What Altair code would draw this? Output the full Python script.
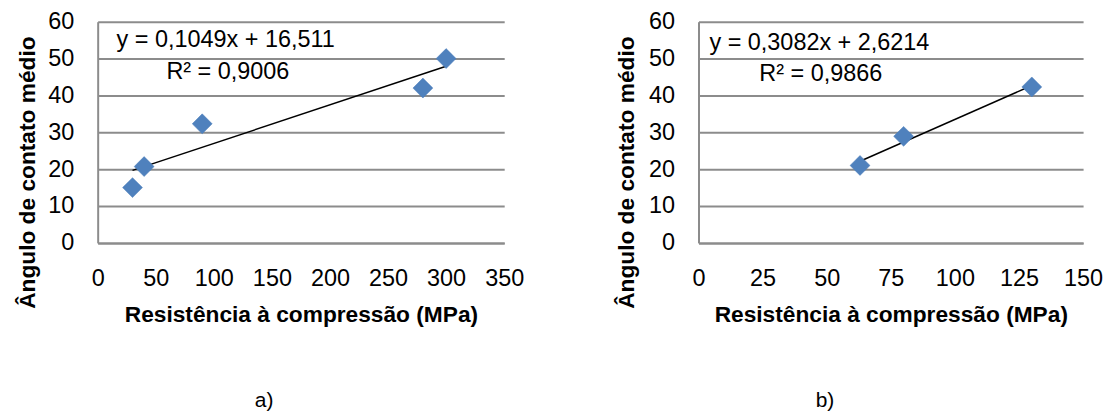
import altair as alt
import pandas as pd

# ---- data ----
a_x = [30, 40, 90, 280, 300]
a_y = [15, 20.7, 32.3, 42, 50]
b_x = [63, 80, 130]
b_y = [21, 28.9, 42.3]

a_eq = "y = 0,1049x + 16,511"
a_r2 = "R² = 0,9006"
b_eq = "y = 0,3082x + 2,6214"
b_r2 = "R² = 0,9866"

a_xticks = [0, 50, 100, 150, 200, 250, 300, 350]
b_xticks = [0, 25, 50, 75, 100, 125, 150]
y_ticks = [0, 10, 20, 30, 40, 50, 60]

x_title = "Resistência à compressão (MPa)"
y_title = "Ângulo de contato médio"

FONT = "Liberation Sans"
GRID = "#8c8c8c"
BLUE = "#4F81BD"


def panel(xs, ys, xticks, eq, r2, w, eq_pos, r2_pos, label, title_x, label_dx):
    df = pd.DataFrame({"x": xs, "y": ys})
    xenc = alt.X(
        "x:Q",
        scale=alt.Scale(domain=[xticks[0], xticks[-1]], nice=False, zero=False),
        axis=alt.Axis(
            values=xticks, title=x_title, grid=False, ticks=False,
            domain=True, domainColor=GRID, domainWidth=2,
            labelFont=FONT, labelFontSize=23.5, labelPadding=24, labelColor="black",
            labelFlush=False, labelOverlap=False,
            titleFont=FONT, titleFontSize=22.8, titleFontWeight="bold",
            titleColor="black", titlePadding=13,
        ),
    )
    yenc = alt.Y(
        "y:Q",
        scale=alt.Scale(domain=[0, 60], nice=False),
        axis=alt.Axis(
            values=y_ticks, title=y_title, grid=True, gridColor=GRID, gridWidth=2,
            ticks=False, domain=True, domainColor=GRID, domainWidth=2,
            labelFont=FONT, labelFontSize=23.5, labelPadding=24, labelColor="black",
            labelFlush=False, labelOverlap=False,
            titleFont=FONT, titleFontSize=22.8, titleFontWeight="bold",
            titleColor="black", titleX=title_x, titleY=151, titleBaseline="middle",
        ),
    )
    base = alt.Chart(df)
    pts = base.mark_point(
        shape="diamond", filled=True, size=400, color=BLUE, opacity=1,
        stroke="#4A7EBB", strokeWidth=0.5,
    ).encode(x=xenc, y=yenc)
    trend = base.transform_regression("x", "y").mark_line(
        color="black", strokeWidth=1.5
    ).encode(x=xenc, y=yenc)
    t1 = alt.Chart(pd.DataFrame({"t": [eq]})).mark_text(
        align="left", baseline="middle", font=FONT, fontSize=23.5, color="black"
    ).encode(x=alt.value(eq_pos[0]), y=alt.value(eq_pos[1]), text="t:N")
    t2 = alt.Chart(pd.DataFrame({"t": [r2]})).mark_text(
        align="left", baseline="middle", font=FONT, fontSize=23.5, color="black"
    ).encode(x=alt.value(r2_pos[0]), y=alt.value(r2_pos[1]), text="t:N")
    return alt.layer(trend, pts, t1, t2).properties(
        width=w, height=222,
        title=alt.TitleParams(
            label, orient="bottom", font=FONT, fontSize=21, fontWeight="normal",
            color="black", offset=64, dx=label_dx,
        ),
    )


left = panel(a_x, a_y, a_xticks, a_eq, a_r2, 408, (19, 18), (69, 51), "a)", -70, -37)
right = panel(b_x, b_y, b_xticks, b_eq, b_r2, 386, (11, 21), (61, 53), "b)", -72, -66)

chart = alt.hconcat(left, right, spacing=92).configure(
    padding={"left": 9, "top": 1, "right": 5, "bottom": 5},
    background="white",
).configure_view(stroke=None)

chart.save("out.html", embed_options={"renderer": "svg", "actions": False})
